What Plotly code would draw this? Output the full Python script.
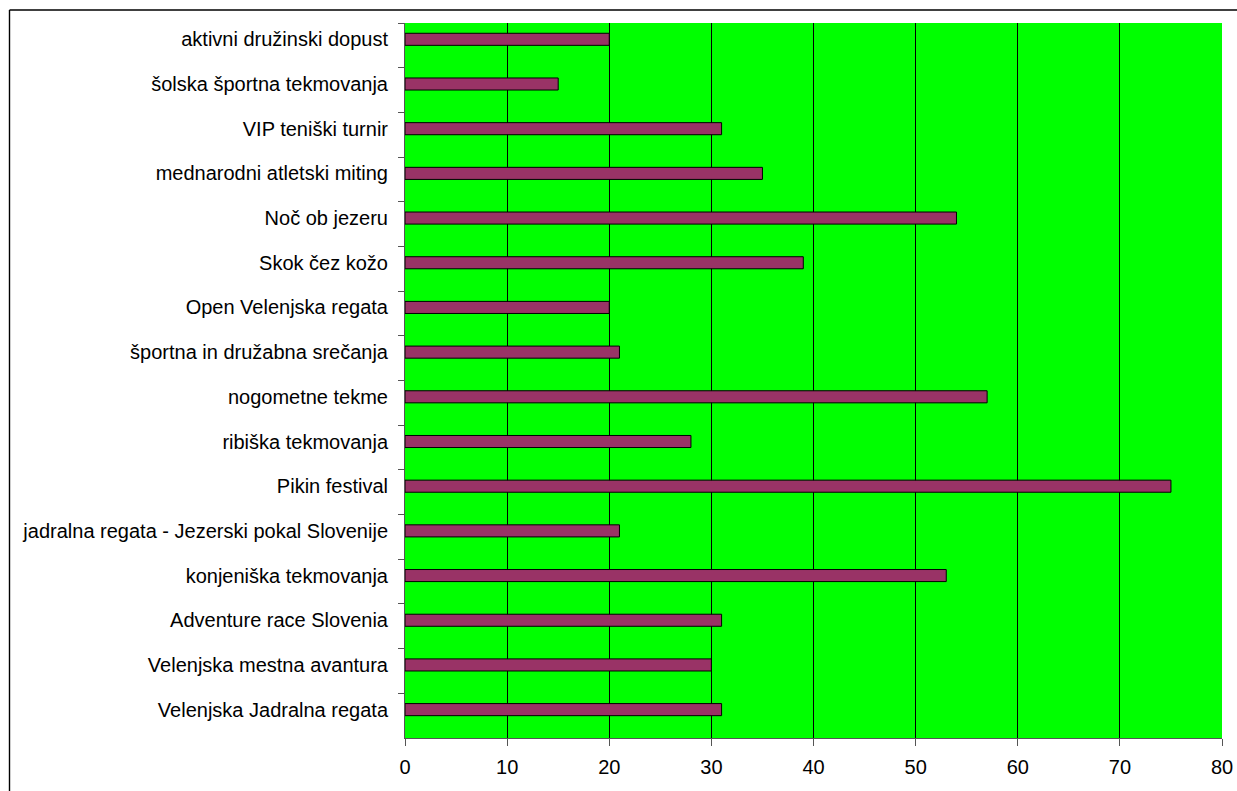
import plotly.graph_objects as go

categories = [
    "aktivni družinski dopust",
    "šolska športna tekmovanja",
    "VIP teniški turnir",
    "mednarodni atletski miting",
    "Noč ob jezeru",
    "Skok čez kožo",
    "Open Velenjska regata",
    "športna in družabna srečanja",
    "nogometne tekme",
    "ribiška tekmovanja",
    "Pikin festival",
    "jadralna regata - Jezerski pokal Slovenije",
    "konjeniška tekmovanja",
    "Adventure race Slovenia",
    "Velenjska mestna avantura",
    "Velenjska Jadralna regata",
]
values = [20, 15, 31, 35, 54, 39, 20, 21, 57, 28, 75, 21, 53, 31, 30, 31]
x_ticks = [0, 10, 20, 30, 40, 50, 60, 70, 80]

# figure fills the whole 1237x791 window; the whole layout is done with axis domains
W, H = 1237, 791
PL, PR, PT, PB = 405, 1222, 23, 738   # plot area in page pixels

fig = go.Figure(
    go.Bar(
        x=values,
        y=categories,
        orientation="h",
        width=0.27,
        offset=-0.27,
        marker=dict(color="#993366", line=dict(color="#000000", width=1)),
        hoverinfo="skip",
    )
)

font = dict(family="Liberation Sans, Arial, sans-serif", size=20, color="#000000")

fig.update_layout(
    width=W,
    height=H,
    margin=dict(l=0, r=0, t=0, b=0, pad=0, autoexpand=False),
    paper_bgcolor="#ffffff",
    plot_bgcolor="#00ff00",
    showlegend=False,
    font=font,
    xaxis=dict(
        domain=[PL / W, PR / W],
        range=[0, 80],
        tickvals=x_ticks,
        ticks="outside",
        ticklen=7,
        tickcolor="#555555",
        showline=True,
        linecolor="#555555",
        linewidth=1,
        showgrid=True,
        gridcolor="#000000",
        gridwidth=1,
        zeroline=False,
        tickfont=font,
        ticklabelstandoff=4,
        automargin=False,
        fixedrange=True,
    ),
    yaxis=dict(
        domain=[(H - PB) / H, (H - PT) / H],
        autorange="reversed",
        type="category",
        tickson="boundaries",
        ticks="outside",
        ticklen=6,
        tickcolor="#555555",
        showline=True,
        linecolor="#555555",
        linewidth=1,
        showgrid=False,
        tickfont=font,
        ticklabelstandoff=12,
        ticklabelshift=6,
        automargin=False,
        fixedrange=True,
    ),
)

# outer chart frame (top and left edges visible in the window), in paper coords
frame_left, frame_top = 9.5, 10
frame_style = dict(color="#000000", width=1.4)
fig.add_shape(
    type="line", xref="paper", yref="paper",
    x0=frame_left / W, x1=1.0,
    y0=1 - frame_top / H, y1=1 - frame_top / H,
    line=frame_style, layer="above",
)
fig.add_shape(
    type="line", xref="paper", yref="paper",
    x0=frame_left / W, x1=frame_left / W,
    y0=0.0, y1=1 - frame_top / H,
    line=frame_style, layer="above",
)

fig.write_html(
    "out.html",
    config={"displayModeBar": False, "staticPlot": True},
    post_script=(
        "document.body.style.margin='0';"
        "document.documentElement.style.overflow='hidden';document.body.style.overflow='hidden';"
    ),
)
